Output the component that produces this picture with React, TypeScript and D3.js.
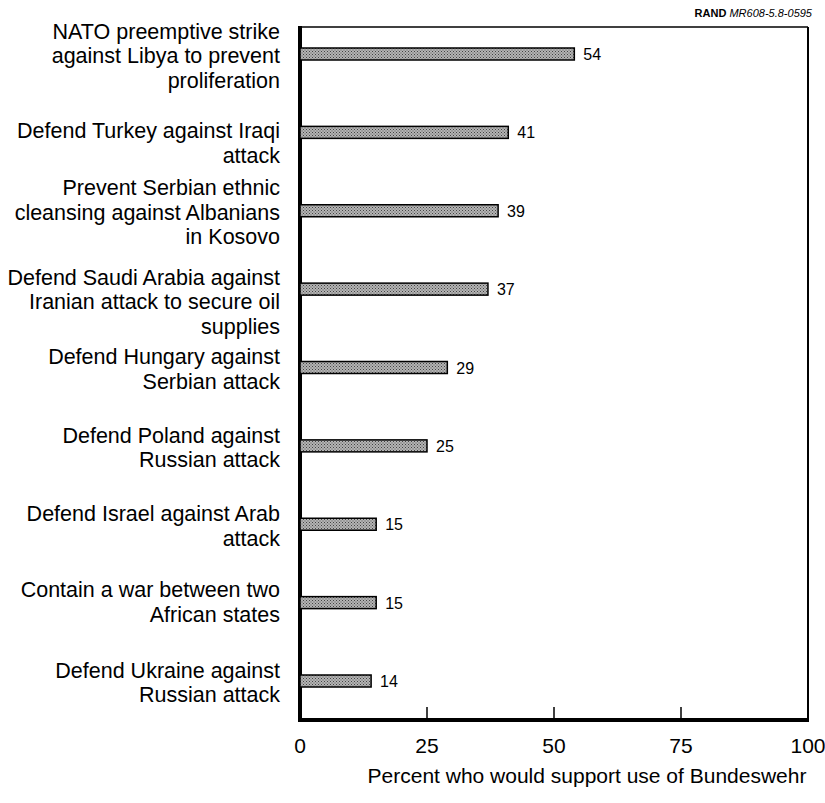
import React from "react";
import * as d3 from "d3";

const categories: string[][] = [
  ["NATO preemptive strike", "against Libya to prevent", "proliferation"],
  ["Defend Turkey against Iraqi", "attack"],
  ["Prevent Serbian ethnic", "cleansing against Albanians", "in Kosovo"],
  ["Defend Saudi Arabia against", "Iranian attack to secure oil", "supplies"],
  ["Defend Hungary against", "Serbian attack"],
  ["Defend Poland against", "Russian attack"],
  ["Defend Israel against Arab", "attack"],
  ["Contain a war between two", "African states"],
  ["Defend Ukraine against", "Russian attack"],
];
const values: number[] = [54, 41, 39, 37, 29, 25, 15, 15, 14];
const xTicks: number[] = [0, 25, 50, 75, 100];
const xTitle = "Percent who would support use of Bundeswehr";

export default function App() {
  const W = 825, H = 803;
  const left = 300, right = 808, top = 27, bottom = 720;
  const x = d3.scaleLinear().domain([0, 100]).range([left, right]);
  const idx = categories.map((_, i) => String(i));
  const y = d3.scalePoint<string>().domain(idx).range([54, 681]).padding(0);
  const barH = 12;
  // layout-only nudges for the category label blocks (as in the original artwork)
  const labelNudge = [2, 11, 2, 13, 2, 2, 2, 0, 2];
  const font = "Liberation Sans, Arial, Helvetica, sans-serif";
  return (
    <svg width={W} height={H} style={{ position: "absolute", left: 0, top: 0, background: "#fff" }} fontFamily={font}>
      <defs>
        <pattern id="stip" width="3" height="3" patternUnits="userSpaceOnUse">
          <rect width="3" height="3" fill="#b4b4b4" />
          <rect x="0" y="0" width="1" height="1" fill="#444" />
          <rect x="1.5" y="1.5" width="1" height="1" fill="#555" />
        </pattern>
      </defs>
      <text x={812} y={17} textAnchor="end" fontSize={11}>
        <tspan fontWeight="bold">RAND </tspan>
        <tspan fontStyle="italic">MR608-5.8-0595</tspan>
      </text>
      {/* frame */}
      <line x1={left} x2={right} y1={top} y2={top} stroke="#000" strokeWidth={1.5} />
      <line x1={right} x2={right} y1={top} y2={bottom} stroke="#000" strokeWidth={2} />
      <line x1={left} x2={left} y1={top - 1} y2={bottom + 2} stroke="#000" strokeWidth={4} />
      <line x1={left - 2} x2={right + 1} y1={bottom} y2={bottom} stroke="#000" strokeWidth={4} />
      {xTicks.slice(1, -1).map((t) => (
        <line key={t} x1={x(t)} x2={x(t)} y1={bottom} y2={bottom - 13} stroke="#000" strokeWidth={1.5} />
      ))}
      {xTicks.map((t) => (
        <text key={t} x={x(t)} y={753} textAnchor="middle" fontSize={21}>{t}</text>
      ))}
      <text x={587} y={783} textAnchor="middle" fontSize={21}>{xTitle}</text>
      {values.map((v, i) => {
        const cy = y(String(i)) as number;
        const lines = categories[i];
        const lh = 24.5;
        const startY = cy - ((lines.length - 1) * lh) / 2 + 7 + labelNudge[i];
        return (
          <g key={i}>
            <rect x={x(0)} y={cy - barH / 2} width={x(v) - x(0)} height={barH} fill="url(#stip)" stroke="#000" strokeWidth={1.5} />
            <text x={x(v) + 9} y={cy + 6} fontSize={16}>{v}</text>
            <text x={280} textAnchor="end" fontSize={21.5}>
              {lines.map((l, j) => (
                <tspan key={j} x={280} y={startY + j * lh}>{l}</tspan>
              ))}
            </text>
          </g>
        );
      })}
    </svg>
  );
}
